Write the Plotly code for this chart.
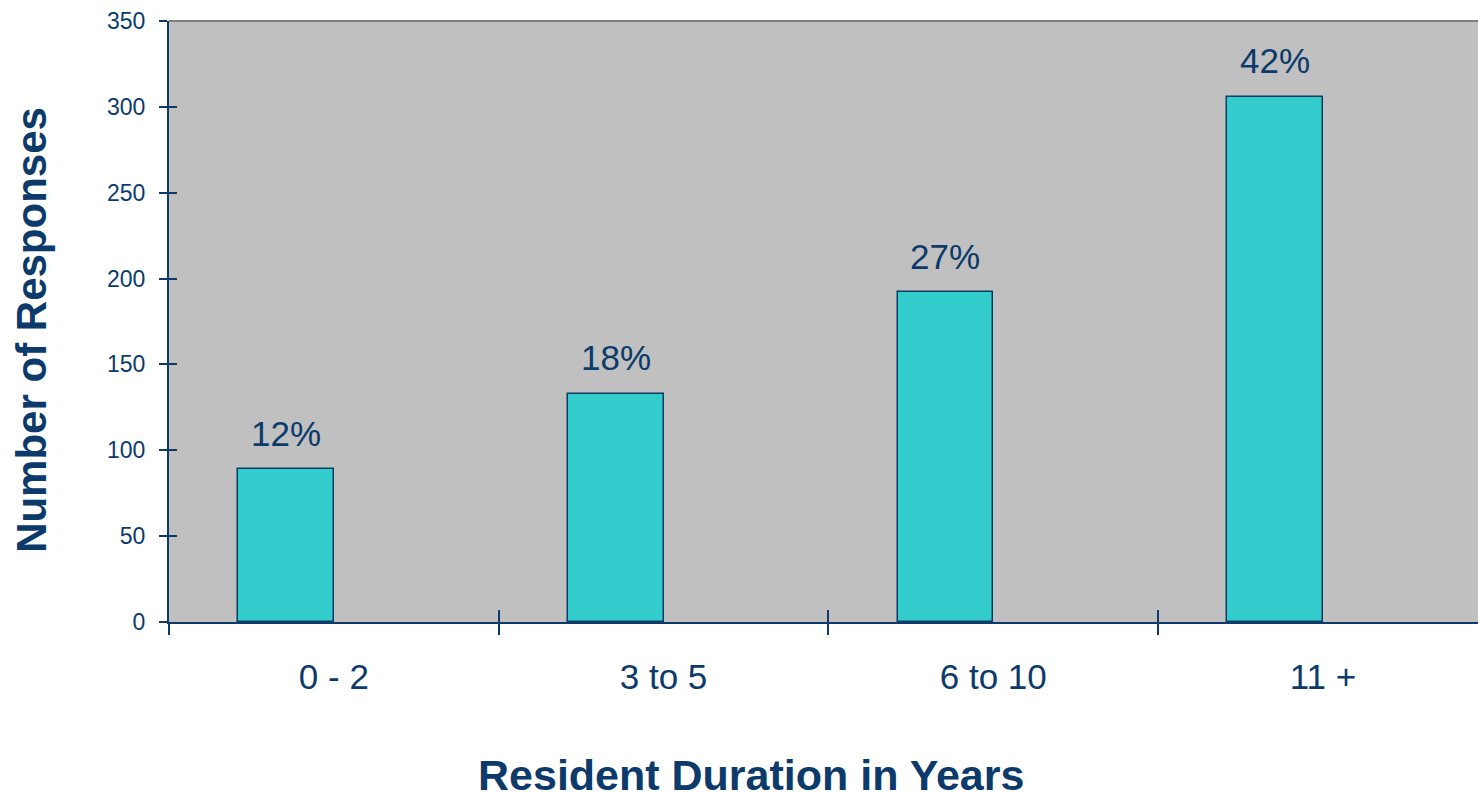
import plotly.graph_objects as go

categories = ["0 - 2", "3 to 5", "6 to 10", "11 +"]
responses = [89, 133, 192, 306]
pct_labels = ["12%", "18%", "27%", "42%"]
y_ticks = [0, 50, 100, 150, 200, 250, 300, 350]

NAVY = "#0B3A6B"
BAR_W = 0.29
FONT = "Arial, 'Liberation Sans', sans-serif"

xs = list(range(len(categories)))
bounds = [i - 0.5 for i in range(len(categories) + 1)]

fig = go.Figure()
fig.add_trace(go.Bar(
    x=xs, y=responses, width=BAR_W, offset=-BAR_W,
    marker=dict(color="#33CCCC", line=dict(color="#0E3A62", width=1.5)),
    hoverinfo="skip", showlegend=False,
))
# invisible helper traces so the overlay tick axes render
for xa in ("x2", "x3"):
    fig.add_trace(go.Scatter(x=xs, y=responses, xaxis=xa, yaxis="y2", mode="markers",
                             marker=dict(opacity=0), hoverinfo="skip", showlegend=False))

for i, (v, t) in enumerate(zip(responses, pct_labels)):
    fig.add_annotation(x=xs[i] - BAR_W / 2, y=v, text=t, showarrow=False,
                       yshift=36, yanchor="middle",
                       font=dict(family=FONT, size=35, color=NAVY))

fig.add_annotation(xref="paper", yref="paper", x=0.4446, y=-0.2546,
                   text="<b>Resident Duration in Years</b>", showarrow=False,
                   xanchor="center", yanchor="middle",
                   font=dict(family=FONT, size=43, color=NAVY))
fig.add_annotation(xref="paper", yref="paper", x=-0.1047, y=0.486,
                   text="<b>Number of Responses</b>", showarrow=False, textangle=-90,
                   xanchor="center", yanchor="middle",
                   font=dict(family=FONT, size=42, color=NAVY))

# top border of plot area
fig.add_shape(type="line", xref="paper", yref="paper", x0=0, x1=1, y0=1, y1=1,
              line=dict(color="#808080", width=2))

xr = [-0.5, -0.5 + 1309 / 329.7]

fig.update_layout(
    width=1478, height=793,
    margin=dict(l=169, r=0, t=21, b=171),
    paper_bgcolor="white", plot_bgcolor="#C0C0C0",
    xaxis=dict(range=xr, tickvals=xs, ticktext=categories, ticks="outside",
               ticklen=12, tickcolor="rgba(0,0,0,0)", showgrid=False, zeroline=False,
               showline=True, linecolor=NAVY, linewidth=2, ticklabelstandoff=11,
               tickfont=dict(family=FONT, size=35, color=NAVY), fixedrange=True),
    xaxis2=dict(overlaying="x", matches="x", anchor="y2", tickvals=bounds, ticks="outside",
                ticklen=12, tickwidth=2, tickcolor=NAVY, showticklabels=False,
                showgrid=False, zeroline=False, showline=False),
    xaxis3=dict(overlaying="x", matches="x", anchor="y2", tickvals=bounds, ticks="inside",
                ticklen=12, tickwidth=2, tickcolor=NAVY, showticklabels=False,
                showgrid=False, zeroline=False, showline=False),
    yaxis=dict(range=[0, 350], tickvals=y_ticks, ticks="outside", ticklen=8, tickwidth=2,
               tickcolor=NAVY, showgrid=False, zeroline=False, showline=True,
               linecolor=NAVY, linewidth=2, ticklabelstandoff=9,
               tickfont=dict(family=FONT, size=23, color=NAVY)),
    yaxis2=dict(overlaying="y", matches="y", anchor="x", tickvals=y_ticks, ticks="inside",
                ticklen=8, tickwidth=2, tickcolor=NAVY, showticklabels=False,
                showgrid=False, zeroline=False, showline=False),
    bargap=0,
)

fig.write_html("out.html")
